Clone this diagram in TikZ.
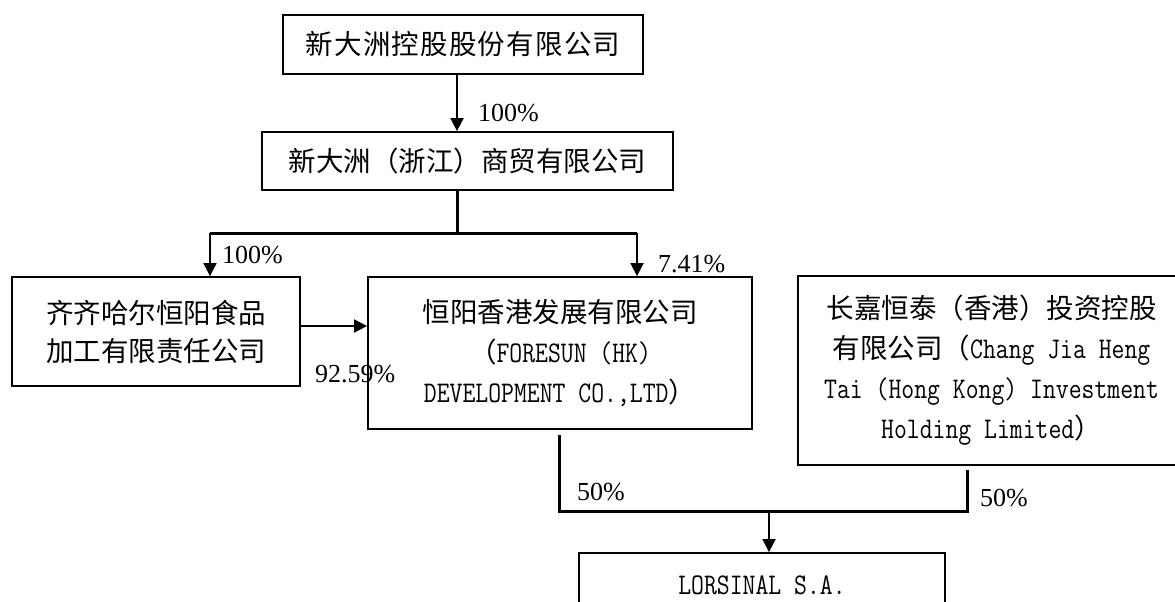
\documentclass[tikz,border=0pt]{standalone}
\usepackage{fontspec}
\usepackage{graphicx}
\setmainfont{Liberation Serif}
\newfontfamily\cjk{Noto Sans CJK SC}
\newfontfamily\cjkw[LetterSpace=4.5]{Noto Sans CJK SC}
\newcommand\mono[1]{\scalebox{1}[1.2]{\ttfamily\fontsize{25}{40}\selectfont #1}}
\usetikzlibrary{arrows.meta}
\begin{document}
\begin{tikzpicture}[x=1pt,y=-1pt,
  box/.style={draw, line width=1.8pt, inner sep=0pt, align=center,
    font=\cjk\fontsize{27.5}{40}\selectfont},
  arr/.style={line width=1.8pt, -{Triangle[length=13pt,width=13pt]}},
  bus/.style={line width=3pt},
  pct/.style={font=\fontsize{26}{30}\selectfont, inner sep=0pt, anchor=west}]
\useasboundingbox (0,0) rectangle (1175,602);
\clip (0,0) rectangle (1175,602);
\fill[white] (0,0) rectangle (1175,602);
% boxes
\node[box, minimum width=360pt, minimum height=59pt, font=\cjkw\fontsize{27.5}{40}\selectfont] (b1) at (463,44.5) {新大洲控股股份有限公司};
\node[box, minimum width=411pt, minimum height=58pt] (b2) at (467.5,161) {新大洲（浙江）商贸有限公司};
\node[box, minimum width=288pt, minimum height=109pt, font=\cjk\fontsize{27.5}{38}\selectfont] (b3) at (156,331.5) {齐齐哈尔恒阳食品\\加工有限责任公司};
\node[box, minimum width=384pt, minimum height=152pt] (b4) at (560,353) {恒阳香港发展有限公司\\（\mono{FORESUN (HK)}\\\mono{DEVELOPMENT CO.,LTD}）};
\node[box, minimum width=387pt, minimum height=189pt] (b5) at (991.5,370.5) {长嘉恒泰（香港）投资控股\\有限公司（\mono{Chang Jia Heng}\\\mono{Tai (Hong Kong) Investment}\\\mono{Holding Limited}）};
\node[box, minimum width=366pt, minimum height=64pt] (b6) at (762,585) {\mono{LORSINAL S.A.}};
% connectors
\coordinate (j1) at (457,233);
\coordinate (jl) at (210,233);
\coordinate (jr) at (637,233);
\coordinate (kl) at (559,511);
\coordinate (kr) at (967,511);
\coordinate (km) at (769,511);
\draw[arr] ([xshift=-6pt]b1.south) -- ([xshift=-6pt]b1.south |- b2.north);
\draw[bus] ([xshift=-10.5pt]b2.south) -- (j1);
\draw[bus] (jl) -- (jr);
\draw[arr] (jl) -- (jl |- b3.north);
\draw[arr] (jr) -- (jr |- b4.north);
\draw[arr] ([yshift=5.5pt]b3.east) -- ([yshift=5.5pt]b3.east -| b4.west);
\draw[bus] ([yshift=-5pt]b4.south -| kl) -- (kl) -- (kr) -- ([yshift=-4pt]b5.south -| kr);
\draw[arr] (km) -- (km |- b6.north);
% labels
\node[pct] (p1) at (478,113) {100\%};
\node[pct] (p2) at (222,255) {100\%};
\node[pct] (p3) at (658,264) {7.41\%};
\node[pct] (p4) at (315,374) {92.59\%};
\node[pct] (p5) at (577,492) {50\%};
\node[pct] (p6) at (980,498) {50\%};
\end{tikzpicture}
\end{document}
